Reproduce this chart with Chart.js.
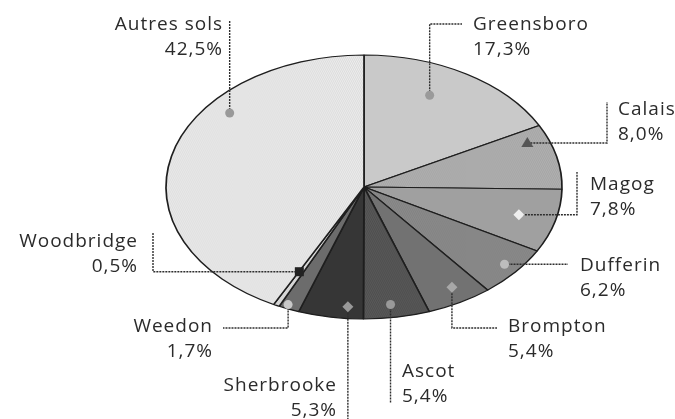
<!DOCTYPE html>
<html>
<head>
<meta charset="utf-8">
<script src="https://cdn.jsdelivr.net/npm/chart.js@4/dist/chart.umd.min.js"></script>
<style>
  body { margin: 0; background: #fff; }
</style>
</head>
<body>
<canvas id="pie" width="675" height="419"></canvas>
<script>
// data
var categories = ['Greensboro', 'Calais', 'Magog', 'Dufferin', 'Brompton', 'Ascot', 'Sherbrooke', 'Weedon', 'Woodbridge', 'Autres sols'];
var shares = [17.3, 8.0, 7.8, 6.2, 5.4, 5.4, 5.3, 1.7, 0.5, 42.5];

function pct(v) { return v.toFixed(1).replace('.', ',') + '%'; }

// the pie is drawn as a circle by Chart.js and squashed into this ellipse
var ELL = { cx: 364, cy: 187, rx: 198, ry: 132 };

function dots(base, dot) {
  var c = document.createElement('canvas');
  c.width = 2; c.height = 2;
  var g = c.getContext('2d');
  g.fillStyle = base; g.fillRect(0, 0, 2, 2);
  g.fillStyle = dot; g.fillRect(0, 0, 1, 1); g.fillRect(1, 1, 1, 1);
  return g.createPattern(c, 'repeat');
}

var fills = ['#c9c9c9', dots('#b4b4b4', '#a2a2a2'), '#a0a0a0', dots('#8e8e8e', '#808080'),
  '#727272', dots('#5a5a5a', '#4e4e4e'), '#363636', '#6c6c6c', '#d6d6d6', dots('#ededed', '#dcdcdc')];

// callouts: marker spot in the slice (t = share of slice angle, r = share of radius),
// leader route (null = keep that coordinate), text anchor
var callouts = [
  { t: 0.41, r: 0.77, mk: 'circle',   mc: '#9a9a9a', route: [[null, 24], [462, null]], tx: 473, ty: 25, align: 'left' },
  { t: 0.20, r: 0.89, mk: 'triangle', mc: '#555555', route: [[607, null], [null, 102]], tx: 618, ty: 110, align: 'left' },
  { t: 0.50, r: 0.81, mk: 'diamond',  mc: '#eeeeee', route: [[577, null], [null, 172]], tx: 590, ty: 185, align: 'left' },
  { t: 0.47, r: 0.92, mk: 'circle',   mc: '#bdbdbd', route: [[568, null]], tx: 580, ty: 266, align: 'left' },
  { t: 0.43, r: 0.88, mk: 'diamond',  mc: '#a8a8a8', route: [[null, 328], [497, null]], tx: 508, ty: 327, align: 'left' },
  { t: 0.55, r: 0.90, mk: 'circle',   mc: '#999999', route: [[null, 403]], tx: 402, ty: 372, align: 'left' },
  { t: 0.26, r: 0.91, mk: 'diamond',  mc: '#999999', route: [[null, 419]], tx: 337, ty: 386, align: 'right' },
  { t: 0.66, r: 0.97, mk: 'circle',   mc: '#c8c8c8', route: [[null, 328], [223, null]], tx: 213, ty: 327, align: 'right' },
  { t: 0.90, r: 0.72, mk: 'square',   mc: '#222222', route: [[153, null], [null, 233]], tx: 138, ty: 242, align: 'right' },
  { t: 0.67, r: 0.88, mk: 'circle',   mc: '#999999', route: [[null, 20]], tx: 223, ty: 25, align: 'right' }
];

function marker(ctx, type, x, y, color) {
  ctx.fillStyle = color;
  ctx.beginPath();
  if (type == 'circle') ctx.arc(x, y, 4.5, 0, Math.PI * 2);
  else if (type == 'diamond') { ctx.moveTo(x, y - 5.5); ctx.lineTo(x + 5.5, y); ctx.lineTo(x, y + 5.5); ctx.lineTo(x - 5.5, y); ctx.closePath(); }
  else if (type == 'triangle') { ctx.moveTo(x, y - 6); ctx.lineTo(x + 6, y + 4); ctx.lineTo(x - 6, y + 4); ctx.closePath(); }
  else ctx.rect(x - 4.5, y - 4.5, 9, 9);
  ctx.fill();
}

var ellipsePlugin = {
  id: 'ellipse',
  beforeDatasetsDraw: function(chart) {
    var arc = chart.getDatasetMeta(0).data[0];
    var ctx = chart.ctx;
    ctx.save();
    ctx.translate(ELL.cx, ELL.cy);
    ctx.scale(ELL.rx / arc.outerRadius, ELL.ry / arc.outerRadius);
    ctx.translate(-arc.x, -arc.y);
  },
  afterDatasetsDraw: function(chart) {
    var ctx = chart.ctx;
    ctx.restore();
    var arcs = chart.getDatasetMeta(0).data;

    var spots = arcs.map(function(a, i) {
      var c = callouts[i];
      var ang = a.startAngle + c.t * (a.endAngle - a.startAngle);
      return [ELL.cx + Math.cos(ang) * c.r * ELL.rx, ELL.cy + Math.sin(ang) * c.r * ELL.ry];
    });

    // leader lines
    ctx.save();
    ctx.strokeStyle = '#2e2e2e';
    ctx.lineWidth = 1.4;
    ctx.setLineDash([2, 1]);
    for (var i = 0; i < callouts.length; i++) {
      var x = spots[i][0], y = spots[i][1];
      ctx.beginPath();
      ctx.moveTo(x, y);
      callouts[i].route.forEach(function(p) {
        if (p[0] !== null) x = p[0];
        if (p[1] !== null) y = p[1];
        ctx.lineTo(x, y);
      });
      ctx.stroke();
    }
    ctx.restore();

    for (var j = 0; j < callouts.length; j++) {
      marker(ctx, callouts[j].mk, spots[j][0], spots[j][1], callouts[j].mc);
    }

    // labels
    ctx.save();
    ctx.fillStyle = '#2b2b2b';
    ctx.font = '19px "Open Sans"';
    ctx.letterSpacing = '1px';
    ctx.textBaseline = 'middle';
    for (var k = 0; k < callouts.length; k++) {
      var c = callouts[k];
      ctx.textAlign = c.align;
      ctx.fillText(categories[k], c.tx, c.ty);
      ctx.fillText(pct(shares[k]), c.tx, c.ty + 25);
    }
    ctx.restore();
  }
};

new Chart(document.getElementById('pie'), {
  type: 'pie',
  data: {
    labels: categories,
    datasets: [{
      data: shares,
      backgroundColor: fills,
      borderColor: '#1e1e1e',
      borderWidth: 1.7
    }]
  },
  options: {
    responsive: false,
    animation: false,
    devicePixelRatio: 1,
    layout: { padding: { left: 166, right: 113, top: 11, bottom: 12 } },
    plugins: {
      legend: { display: false },
      tooltip: { enabled: false }
    }
  },
  plugins: [ellipsePlugin]
});
</script>
</body>
</html>
